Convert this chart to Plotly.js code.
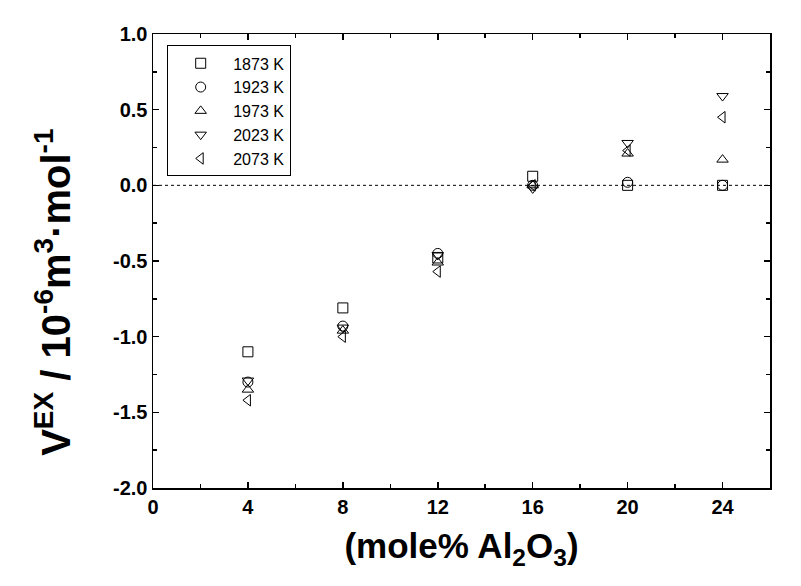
<!DOCTYPE html>
<html>
<head>
<meta charset="utf-8">
<script src="https://cdn.plot.ly/plotly-3.0.1.min.js"></script>
<style>html,body{margin:0;padding:0;background:#fff;}</style>
</head>
<body>
<div id="chart" style="width:801px;height:586px;"></div>
<script>
const xCompositions = [4, 8, 12, 16, 20, 24];
const seriesNames = ["1873 K", "1923 K", "1973 K", "2023 K", "2073 K"];
const v1873 = [-1.10, -0.81, -0.48, 0.06, 0.00, 0.00];
const v1923 = [-1.30, -0.93, -0.45, 0.00, 0.02, 0.00];
const v1973 = [-1.35, -0.96, -0.51, 0.00, 0.21, 0.17];
const v2023 = [-1.29, -0.94, -0.46, -0.02, 0.28, 0.59];
const v2073 = [-1.42, -1.00, -0.57, 0.00, 0.23, 0.45];
const seriesValues = [v1873, v1923, v1973, v2023, v2073];
const symbols = ["square-open", "circle-open", "triangle-up-open", "triangle-down-open", "triangle-left-open"];
const xTickVals = [0, 4, 8, 12, 16, 20, 24];
const xTickText = ["0", "4", "8", "12", "16", "20", "24"];
const yTickVals = [-2.0, -1.5, -1.0, -0.5, 0.0, 0.5, 1.0];
const yTickText = ["-2.0", "-1.5", "-1.0", "-0.5", "0.0", "0.5", "1.0"];
const xTitle = "<b>(mole% Al<sub>2</sub>O<sub>3</sub>)</b>";
const yTitle = "<b>V<sup>EX</sup> / 10<sup>-6</sup>m<sup>3</sup>·mol<sup>-1</sup></b>";

const font = "Arial, 'Liberation Sans', sans-serif";
const traces = seriesNames.map((n, i) => ({
  x: xCompositions, y: seriesValues[i], name: n, type: "scatter", mode: "markers",
  marker: {symbol: symbols[i], size: 10, color: "#000", line: {color: "#000", width: 1}}
}));

const layout = {
  width: 801, height: 586,
  margin: {l: 153, r: 31, t: 34, b: 98},
  paper_bgcolor: "#fff", plot_bgcolor: "#fff",
  showlegend: true,
  legend: {x: 0.023, y: 0.975, xanchor: "left", yanchor: "top", bordercolor: "#000", borderwidth: 1,
    font: {family: font, size: 16, color: "#000"}, tracegroupgap: 0, itemwidth: 55, bgcolor: "#fff"},
  xaxis: {range: [0, 26], tickvals: xTickVals, ticktext: xTickText,
    ticks: "inside", ticklen: 6, tickwidth: 1.5, tickcolor: "#000",
    minor: {dtick: 2, tick0: 0, ticks: "inside", ticklen: 4, tickwidth: 1.5, tickcolor: "#000"},
    showline: true, linecolor: "#000", linewidth: 1.5, mirror: "ticks", showgrid: false, zeroline: false,
    tickfont: {family: font, size: 20, color: "#000", weight: "bold"},
    title: {text: xTitle, font: {family: font, size: 35, color: "#000"}, standoff: 17}},
  yaxis: {range: [-2.0, 1.0], tickvals: yTickVals, ticktext: yTickText,
    ticks: "inside", ticklen: 6, tickwidth: 1.5, tickcolor: "#000",
    minor: {dtick: 0.25, ticks: "inside", ticklen: 4, tickwidth: 1.5, tickcolor: "#000"},
    showline: true, linecolor: "#000", linewidth: 1.5, mirror: "ticks", showgrid: false, zeroline: false,
    tickfont: {family: font, size: 20, color: "#000", weight: "bold"}},
  annotations: [{text: yTitle, textangle: -90, xref: "paper", yref: "paper", x: -0.162, y: 0.43,
    xanchor: "center", yanchor: "middle", showarrow: false, font: {family: font, size: 40, color: "#000"}}],
  shapes: [{type: "line", xref: "paper", x0: 0, x1: 1, yref: "y", y0: 0, y1: 0,
    line: {color: "#000", width: 1, dash: "3px,3px"}, layer: "below"}]
};
Plotly.newPlot("chart", traces, layout, {displayModeBar: false, staticPlot: true});
</script>
</body>
</html>
